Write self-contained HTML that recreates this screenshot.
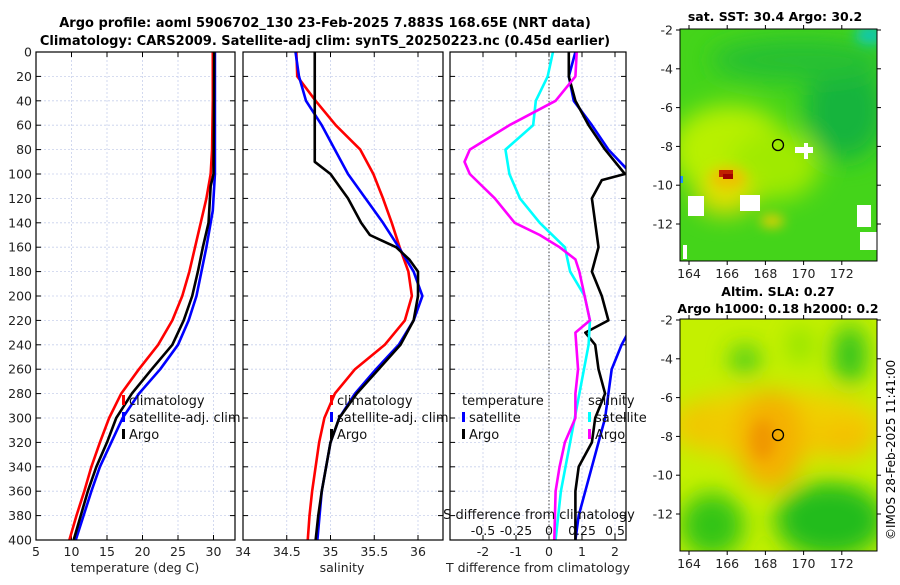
<!DOCTYPE html>
<html><head><meta charset="utf-8"><style>
body{margin:0;background:#fff;width:900px;height:580px;overflow:hidden}
svg{font-family:"DejaVu Sans","Liberation Sans",sans-serif}
</style></head><body>
<svg id="c" width="900" height="580" xmlns="http://www.w3.org/2000/svg">
<defs>
<clipPath id="cp3"><rect x="450" y="52" width="176" height="488"/></clipPath>
<clipPath id="m1"><rect x="680" y="29" width="197" height="232"/></clipPath>
<clipPath id="m2"><rect x="680" y="319" width="197" height="232"/></clipPath>
<filter id="bl" x="-50%" y="-50%" width="200%" height="200%"><feGaussianBlur stdDeviation="12"/></filter>
<filter id="bl2" x="-50%" y="-50%" width="200%" height="200%"><feGaussianBlur stdDeviation="6"/></filter>
</defs>
<text x="325" y="27" text-anchor="middle" font-size="13" font-weight="bold">Argo profile: aoml 5906702_130 23-Feb-2025 7.883S 168.65E (NRT data)</text>
<text x="325" y="45" text-anchor="middle" font-size="13" font-weight="bold">Climatology: CARS2009. Satellite-adj clim: synTS_20250223.nc (0.45d earlier)</text>
<g id="maps">
<g clip-path="url(#m1)">
<rect x="680" y="29" width="197" height="232" fill="#44d41a"/>
<g filter="url(#bl)">
<ellipse cx="730" cy="150" rx="60" ry="45" fill="#b8f000"/>
<ellipse cx="775" cy="165" rx="45" ry="35" fill="#a0ea00"/>
<ellipse cx="845" cy="110" rx="40" ry="50" fill="#18b43c"/>
<ellipse cx="800" cy="60" rx="90" ry="22" fill="#28c030"/>
<ellipse cx="725" cy="195" rx="30" ry="20" fill="#e0e000"/>
</g>
<g filter="url(#bl2)">
<ellipse cx="728" cy="178" rx="18" ry="10" fill="#f0c000"/>
<ellipse cx="772" cy="221" rx="12" ry="6" fill="#f4d000"/>
<ellipse cx="870" cy="35" rx="15" ry="10" fill="#10c8b0"/>
</g>
<rect x="719" y="170" width="14" height="7" fill="#c02000"/>
<rect x="723" y="174" width="10" height="5" fill="#a00000"/>
<rect x="688" y="196" width="16" height="20" fill="#fff"/>
<rect x="740" y="195" width="20" height="16" fill="#fff"/>
<rect x="795" y="147" width="18" height="6" fill="#fff"/>
<rect x="804" y="143" width="4" height="16" fill="#fff"/>
<rect x="857" y="205" width="14" height="22" fill="#fff"/>
<rect x="860" y="232" width="17" height="18" fill="#fff"/>
<rect x="683" y="245" width="4" height="14" fill="#fff"/>
<rect x="680" y="176" width="3" height="7" fill="#1e90ff"/>
</g>
<rect x="680" y="29" width="197" height="232" fill="none" stroke="#000"/>
<circle cx="778" cy="145" r="5.5" fill="none" stroke="#000" stroke-width="1.3"/>
<g clip-path="url(#m2)">
<rect x="680" y="319" width="197" height="232" fill="#c4f000"/>
<g filter="url(#bl)">
<ellipse cx="775" cy="425" rx="110" ry="35" fill="#f0d000"/>
<ellipse cx="770" cy="440" rx="35" ry="50" fill="#f4b000"/>
<ellipse cx="845" cy="440" rx="30" ry="18" fill="#f4c000"/>
<ellipse cx="700" cy="425" rx="20" ry="25" fill="#f0c800"/>
<ellipse cx="712" cy="525" rx="32" ry="32" fill="#30c418"/>
<ellipse cx="830" cy="520" rx="55" ry="38" fill="#20bc1c"/>
<ellipse cx="850" cy="355" rx="16" ry="30" fill="#28c020"/>
<ellipse cx="745" cy="360" rx="14" ry="14" fill="#30c420"/>
<ellipse cx="800" cy="345" rx="10" ry="18" fill="#80e000"/>
</g>
<ellipse cx="763" cy="440" rx="12" ry="20" fill="#f09800" filter="url(#bl2)"/>
</g>
<rect x="680" y="319" width="197" height="232" fill="none" stroke="#000"/>
<circle cx="778" cy="435" r="5.5" fill="none" stroke="#000" stroke-width="1.3"/>
<text x="775" y="21" text-anchor="middle" font-size="12.5" font-weight="bold">sat. SST: 30.4 Argo: 30.2</text>
<text x="778" y="296" text-anchor="middle" font-size="12.5" font-weight="bold">Altim. SLA: 0.27</text>
<text x="778" y="313" text-anchor="middle" font-size="12.5" font-weight="bold">Argo h1000: 0.18 h2000: 0.2</text>
<text transform="translate(895,540) rotate(-90)" font-size="12">©IMOS 28-Feb-2025 11:41:00</text>
</g>
</svg>
<script>
// ---- data ----
const depthTicks=[0,20,40,60,80,100,120,140,160,180,200,220,240,260,280,300,320,340,360,380,400];
const tempTicks=[5,10,15,20,25,30];
const salTicks=[34,34.5,35,35.5,36];
const tdTicks=[-2,-1,0,1,2];
const sdTicks=[-0.5,-0.25,0,0.25,0.5];
const sdTickLabels=["-0.5","-0.25","0","0.25","0.5"];
const lonTicks=[164,166,168,170,172];
const latTicks=[-2,-4,-6,-8,-10,-12];

const tClimD=[0,40,80,100,120,140,160,180,200,220,240,260,280,300,320,340,360,380,400];
const tClimV=[29.9,29.9,29.8,29.6,29.0,28.2,27.4,26.6,25.6,24.2,22.2,19.5,17.0,15.3,14.0,12.8,11.8,10.7,9.7];
const tArgoD=[0,60,100,110,140,160,180,200,220,240,260,280,300,320,340,360,380,400];
const tArgoV=[30.1,30.05,30.0,29.6,29.3,28.5,27.8,27.0,25.8,24.2,21.3,18.5,16.3,15.0,13.5,12.3,11.3,10.3];
const tSatD=[0,60,100,130,160,180,200,220,240,260,280,300,320,340,360,380,400];
const tSatV=[30.2,30.2,30.2,29.9,29.0,28.3,27.6,26.5,25.0,22.5,19.5,17.2,15.6,14.0,12.8,11.7,10.6];

const sClimD=[0,20,40,60,80,100,120,140,160,180,200,220,240,260,280,300,320,340,360,380,400];
const sClimV=[34.61,34.62,34.83,35.06,35.34,35.49,35.6,35.7,35.79,35.89,35.93,35.85,35.62,35.28,35.05,34.93,34.87,34.83,34.79,34.76,34.74];
const sArgoD=[0,90,100,110,120,140,150,160,170,180,200,220,240,260,280,300,320,340,360,380,400];
const sArgoV=[34.82,34.82,35.0,35.1,35.2,35.35,35.45,35.75,35.9,36.0,36.0,35.95,35.8,35.55,35.3,35.1,35.0,34.95,34.9,34.86,34.83];
const sSatD=[0,20,40,60,80,100,120,140,160,180,200,220,240,260,280,300,320,340,360,400];
const sSatV=[34.6,34.64,34.72,34.9,35.05,35.2,35.4,35.6,35.78,35.95,36.05,35.95,35.78,35.52,35.28,35.1,35.0,34.95,34.9,34.85];

const dtSatD=[0,20,40,60,80,100,110,120,150,180,200,220,240,260,280,300,320,340,360,380,400];
const dtSatV=[0.8,0.6,0.75,1.3,1.8,2.5,2.9,3.1,2.9,2.5,2.4,2.6,2.2,1.9,1.8,1.7,1.5,1.3,1.1,0.9,0.8];
const dtArgoD=[0,20,40,60,80,100,105,120,140,160,180,200,220,230,240,260,280,300,320,340,360,380,400];
const dtArgoV=[0.6,0.6,0.8,1.2,1.7,2.3,1.6,1.3,1.4,1.5,1.3,1.6,1.8,1.1,1.4,1.5,1.7,1.4,1.3,0.9,0.8,0.8,0.8];
const dsSatD=[0,20,40,60,80,100,120,140,160,180,200,220,240,280,320,360,400];
const dsSatV=[0.03,-0.01,-0.1,-0.12,-0.33,-0.3,-0.22,-0.07,0.12,0.16,0.27,0.31,0.3,0.23,0.16,0.09,0.05];
const dsArgoD=[0,20,40,60,80,90,100,120,140,150,160,170,180,200,220,230,260,280,300,320,340,360,400];
const dsArgoV=[0.21,0.2,0.05,-0.3,-0.6,-0.64,-0.6,-0.41,-0.26,-0.07,0.08,0.2,0.23,0.27,0.31,0.2,0.22,0.2,0.2,0.12,0.08,0.05,0.04];

// ---- axes ----
const NS="http://www.w3.org/2000/svg";
const svg=document.getElementById('c');
const yD=d=>52+d*1.22;
const xT=v=>36+(v-5)*7.1;
const xS=v=>243+(v-34)*87.5;
const xDT=v=>549+v*33;
const xDS=v=>549+v*132;
function el(t,a,p){const e=document.createElementNS(NS,t);for(const k in a)e.setAttribute(k,a[k]);(p||svg).appendChild(e);return e;}
function txt(x,y,s,a,p){const e=el('text',Object.assign({x:x,y:y,'font-size':12.5,fill:'#222'},a||{}),p);e.textContent=s;return e;}

function panel(name,x0,x1,xticks,xf,xlabels,showY){
  const g=el('g',{});
  
  
  depthTicks.forEach(d=>{
    const l=el('line',{x1:x0,x2:x1,y1:yD(d),y2:yD(d),stroke:'#c8d0ec','stroke-width':0.8,'stroke-dasharray':'2,2'},g);
    
    
    el('line',{x1:x0,x2:x0+5,y1:yD(d),y2:yD(d),stroke:'#000'},g);
    el('line',{x1:x1,x2:x1-5,y1:yD(d),y2:yD(d),stroke:'#000'},g);
    if(showY){const t=txt(x0-4,yD(d)+4.5,String(d),{'text-anchor':'end'},g);
      
      }
  });
  xticks.forEach((v,i)=>{
    const x=xf(v);
    if(x>x0+1&&x<x1-1){const l=el('line',{x1:x,x2:x,y1:52,y2:540,stroke:'#c8d0ec','stroke-width':0.8,'stroke-dasharray':'2,2'},g);
      
      }
    el('line',{x1:x,x2:x,y1:540,y2:535,stroke:'#000'},g);
    el('line',{x1:x,x2:x,y1:52,y2:57,stroke:'#000'},g);
    if(xlabels){const t=txt(x,556,xlabels[i],{'text-anchor':'middle'},g);
      
      }
  });
  return g;
}
function line(g,D,V,xf,col,name,w){
  const p=el('polyline',{points:D.map((d,i)=>xf(V[i])+','+yD(d)).join(' '),fill:'none',stroke:col,'stroke-width':w||2.6,'stroke-linejoin':'round'},g);
  
  
  return p;
}
function frame(g,x0,x1){el('rect',{x:x0,y:52,width:x1-x0,height:488,fill:'none',stroke:'#000','stroke-width':1.2},g);}
function legend(g,x,y,items){
  items.forEach((it,i)=>{
    const yy=y+i*17;
    if(it[1]){const m=el('rect',{x:x,y:yy-10,width:3,height:10,fill:it[1]},g);
      
      }
    const t=txt(x+(it[1]||it[2]?7:0),yy,it[0],{fill:'#111','font-size':13},g);
    
    
  });
}

// panel 1
const p1=panel('temperature-panel',36,235,tempTicks,xT,tempTicks.map(String),true);
line(p1,tClimD,tClimV,xT,'#ff0000','temperature-climatology-line');
line(p1,tSatD,tSatV,xT,'#0000ff','temperature-satellite-line');
line(p1,tArgoD,tArgoV,xT,'#000','temperature-argo-line');
frame(p1,36,235);
legend(p1,122,405,[['climatology','#ff0000'],['satellite-adj. clim','#0000ff'],['Argo','#000']]);
const xl1=txt(135,572,'temperature (deg C)',{'text-anchor':'middle'});



// panel 2
const p2=panel('salinity-panel',243,443,salTicks,xS,salTicks.map(String),false);
line(p2,sClimD,sClimV,xS,'#ff0000','salinity-climatology-line');
line(p2,sSatD,sSatV,xS,'#0000ff','salinity-satellite-line');
line(p2,sArgoD,sArgoV,xS,'#000','salinity-argo-line');
frame(p2,243,443);
legend(p2,330,405,[['climatology','#ff0000'],['satellite-adj. clim','#0000ff'],['Argo','#000']]);
const xl2=txt(342,572,'salinity',{'text-anchor':'middle'});



// panel 3
const p3=panel('difference-panel',450,626,tdTicks,xDT,tdTicks.map(String),false);
const zl=el('line',{x1:xDT(0),x2:xDT(0),y1:52,y2:540,stroke:'#444','stroke-dasharray':'1.5,2'},p3);


const c3=el('g',{'clip-path':'url(#cp3)'},p3);
line(c3,dtSatD,dtSatV,xDT,'#0000ff','temp-diff-satellite-line');
line(c3,dtArgoD,dtArgoV,xDT,'#000','temp-diff-argo-line');
line(c3,dsSatD,dsSatV,xDS,'#00ffff','sal-diff-satellite-line');
line(c3,dsArgoD,dsArgoV,xDS,'#ff00ff','sal-diff-argo-line');
frame(p3,450,626);
legend(p3,462,405,[['temperature',null],['satellite','#0000ff'],['Argo','#000']]);
legend(p3,588,405,[['salinity',null],['satellite','#00ffff'],['Argo','#ff00ff']]);
const sdt=txt(539,519,'S difference from climatology',{'text-anchor':'middle','font-size':13,fill:'#111'});


sdTicks.forEach((v,i)=>{const t=txt(xDS(v),535,sdTickLabels[i],{'text-anchor':'middle',fill:'#111'});
  
  });
const xl3=txt(538,572,'T difference from climatology',{'text-anchor':'middle'});



// map axes
const xLon=v=>689+(v-164)*19.1;
function mapAxes(name,top,bot,latY0){
  const g=el('g',{});
  
  
  lonTicks.forEach(v=>{const x=xLon(v);
    el('line',{x1:x,x2:x,y1:bot,y2:bot+4,stroke:'#000'},g);
    el('line',{x1:x,x2:x,y1:top,y2:top-4,stroke:'#000'},g);
    const t=txt(x,bot+17,String(v),{'text-anchor':'middle'},g);
    
    });
  latTicks.forEach(v=>{const y=latY0+(-2-v)*19.4;
    el('line',{x1:680,x2:676,y1:y,y2:y,stroke:'#000'},g);
    el('line',{x1:877,x2:881,y1:y,y2:y,stroke:'#000'},g);
    const t=txt(673,y+4.5,String(v),{'text-anchor':'end'},g);
    
    });
}
mapAxes('sst-map-axes',29,261,30);
mapAxes('sla-map-axes',319,551,320);
</script>
</body></html>
